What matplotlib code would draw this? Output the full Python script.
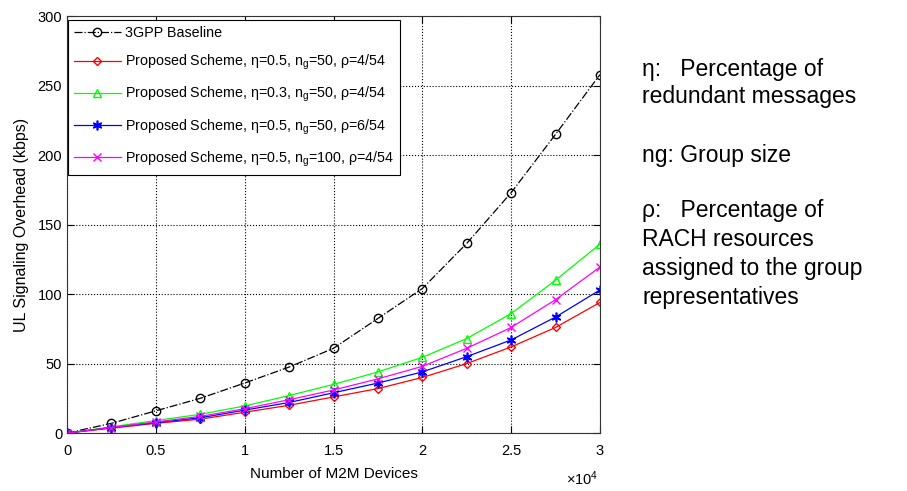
import matplotlib.pyplot as plt
from matplotlib.ticker import FuncFormatter

plt.rcParams['font.family'] = ['Liberation Sans', 'DejaVu Sans']
plt.rcParams['mathtext.fontset'] = 'custom'
plt.rcParams['mathtext.rm'] = 'Liberation Sans'
plt.rcParams['mathtext.it'] = 'Liberation Sans'

# number of M2M devices
devices = [0, 2500, 5000, 7500, 10000, 12500, 15000, 17500, 20000, 22500, 25000, 27500, 30000]

# UL signaling overhead (kbps)
baseline = [0, 7, 16, 25, 36, 47.5, 61, 82.5, 104, 136.5, 173, 215, 258]
eta05_ng50_rho4 = [0, 3.5, 7, 10, 15, 20, 26, 32, 40, 50, 62, 76, 94]
eta03_ng50_rho4 = [0, 4.5, 9, 13.5, 19.5, 27, 35, 44, 54.5, 68, 86, 110, 136]
eta05_ng50_rho6 = [0, 4, 7.5, 11, 16.5, 22, 29, 36, 44, 55, 67, 83.5, 103]
eta05_ng100_rho4 = [0, 4, 8, 12, 17.5, 24, 31, 39, 48, 61, 76, 96, 119.5]

labels = [
    '3GPP Baseline',
    r'Proposed Scheme, $\eta$=0.5, n$_g$=50, $\rho$=4/54',
    r'Proposed Scheme, $\eta$=0.3, n$_g$=50, $\rho$=4/54',
    r'Proposed Scheme, $\eta$=0.5, n$_g$=50, $\rho$=6/54',
    r'Proposed Scheme, $\eta$=0.5, n$_g$=100, $\rho$=4/54',
]

# side notes, one entry per line
note_lines = [
    'η:   Percentage of',
    'redundant messages',
    'ng: Group size',
    'ρ:   Percentage of',
    'RACH resources',
    'assigned to the group',
    'representatives',
]
note_y = [0.8452, 0.7902, 0.6701, 0.5580, 0.4990, 0.4399, 0.3809]

fig = plt.figure(figsize=(9.07, 4.91), dpi=100)
ax = fig.add_axes([0.0739, 0.118, 0.5876, 0.849])

ax.plot(devices, baseline, color='black', linestyle='-.', marker='o',
        markerfacecolor='none', markersize=6, linewidth=0.9, label=labels[0])
ax.plot(devices, eta05_ng50_rho4, color='#ff0000', marker='D',
        markerfacecolor='none', markersize=4.5, linewidth=0.9, label=labels[1])
ax.plot(devices, eta03_ng50_rho4, color='#00ff00', marker='^',
        markerfacecolor='none', markersize=6, linewidth=0.9, label=labels[2])
ax.plot(devices, eta05_ng50_rho6, color='#0000ff', marker=(6, 2, 0),
        markersize=7, markeredgewidth=1.2, linewidth=0.9, label=labels[3])
ax.plot(devices, eta05_ng100_rho4, color='#ff00ff', marker='x',
        markersize=6, linewidth=0.9, label=labels[4])

ax.set_xlim(0, 30000)
ax.set_ylim(0, 300)
ax.set_xticks([0, 5000, 10000, 15000, 20000, 25000, 30000])
ax.set_yticks([0, 50, 100, 150, 200, 250, 300])
ax.xaxis.set_major_formatter(FuncFormatter(lambda v, p: f'{v / 1e4:g}'))
ax.tick_params(direction='in', top=True, right=True, labelsize=10.5, length=5)
ax.tick_params(axis='x', pad=8)
ax.grid(True, color='black', linestyle=':', linewidth=0.8)
for s in ax.spines.values():
    s.set_linewidth(0.8)
    s.set_color('#333333')

ax.set_xlabel('Number of M2M Devices', fontsize=11, labelpad=6)
ax.set_ylabel('UL Signaling Overhead (kbps)', fontsize=11.5, labelpad=6)
fig.text(0.660, 0.006, r'$\times$10$^{4}$', ha='right', va='bottom', fontsize=10.5)

leg = ax.legend(loc='upper left', bbox_to_anchor=(0.002, 0.99), borderaxespad=0,
                fontsize=10.3, frameon=True, fancybox=False, edgecolor='black',
                framealpha=1, handlelength=3.3, handletextpad=0.3,
                labelspacing=0.9)
leg.get_frame().set_linewidth(0.8)

for line, y in zip(note_lines, note_y):
    fig.text(0.708, y, line, fontsize=16.5, va='baseline')

fig.savefig('out.png', dpi=100)
